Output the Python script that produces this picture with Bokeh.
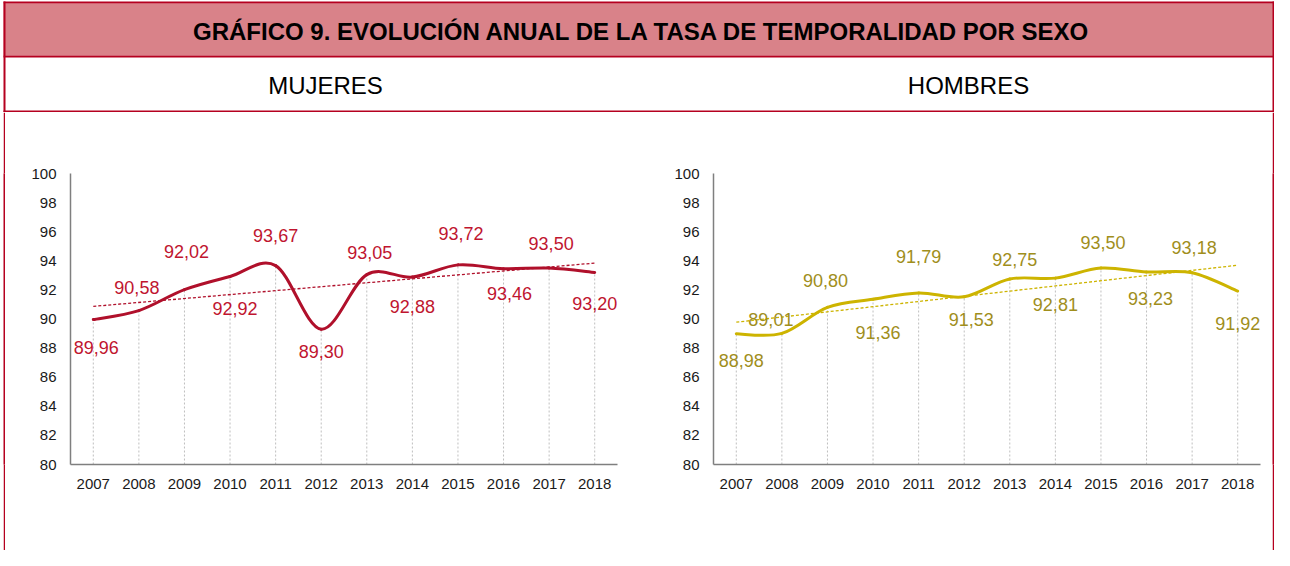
import numpy as np
from bokeh.plotting import figure
from bokeh.models import Range1d, FixedTicker, ColumnDataSource
from bokeh.layouts import column, row
from bokeh.embed import file_html
from bokeh.resources import INLINE
from bokeh.core.properties import value

# ---------------- data ----------------
TITLE = "GRÁFICO  9. EVOLUCIÓN ANUAL DE LA TASA DE TEMPORALIDAD POR SEXO"
PANEL_TITLES = ["MUJERES", "HOMBRES"]
years = [2007, 2008, 2009, 2010, 2011, 2012, 2013, 2014, 2015, 2016, 2017, 2018]
mujeres = [89.96, 90.58, 92.02, 92.92, 93.67, 89.30, 93.05, 92.88, 93.72, 93.46, 93.50, 93.20]
hombres = [88.98, 89.01, 90.80, 91.36, 91.79, 91.53, 92.75, 92.81, 93.50, 93.23, 93.18, 91.92]
y_ticks = [80, 82, 84, 86, 88, 90, 92, 94, 96, 98, 100]

# label placement (screen px, positive dy = below the point)
muj_dx = [3, -2, 2, 5, 0, 0, 3, 0, 3, 6, 2, 0]
muj_dy = [28, -23, -38, 32, -30, 22, -22, 29, -31, 25, -25, 31]
hom_dx = [5, -11, -2, 5, 0, 7, 5, 0, 2, 4, 2, 0]
hom_dy = [27, -14, -27, 33, -36, 23, -19, 26, -26, 26, -25, 32]

# ---------------- styles ----------------
RED = "#B5001F"
PINK = "#D98289"
FONT = "Liberation Sans"
W = 1274
HH = 112
CH = 438


def header():
    p = figure(width=W, height=HH, x_range=Range1d(0, W), y_range=Range1d(HH, 0),
               toolbar_location=None, output_backend="svg", min_border=0,
               x_axis_type=None, y_axis_type=None, outline_line_color=None,
               background_fill_color="white", border_fill_color="white")
    p.grid.visible = False
    p.quad(left=[3], right=[W], top=[3], bottom=[55], fill_color=PINK, line_color=None)
    # border lines: top, two separators, left, right
    p.quad(left=[3, 3, 3, 3, W - 2], right=[W, W, W, 5, W],
           top=[1, 55, 110, 1, 1], bottom=[3, 57, 112, HH, HH],
           fill_color=RED, line_color=None)
    p.text(x=[645], y=[30.5], text=[TITLE], text_font=value(FONT), text_font_style="bold",
           text_font_size="24px", text_align="center", text_baseline="middle",
           text_color="#000000")
    p.text(x=[325, 968], y=[84.5, 84.5], text=PANEL_TITLES, text_font=value(FONT),
           text_font_size="24px", text_align="center", text_baseline="middle",
           text_color="#000000")
    return p


def strip(width, color):
    f = figure(width=width, height=CH, toolbar_location=None, output_backend="svg",
               min_border=0, x_axis_type=None, y_axis_type=None,
               outline_line_color=None, background_fill_color=color,
               border_fill_color=color)
    f.grid.visible = False
    return f


def bezier_segments(xs, ys):
    n = len(xs)
    P = list(zip(xs, ys))
    x0, y0, x1, y1, cx0, cy0, cx1, cy1 = [], [], [], [], [], [], [], []
    for i in range(n - 1):
        pm = P[i - 1] if i > 0 else P[i]
        p0 = P[i]
        p1 = P[i + 1]
        p2 = P[i + 2] if i + 2 < n else P[i + 1]
        x0.append(p0[0]); y0.append(p0[1])
        x1.append(p1[0]); y1.append(p1[1])
        cx0.append(p0[0] + (p1[0] - pm[0]) / 6.0)
        cy0.append(p0[1] + (p1[1] - pm[1]) / 6.0)
        cx1.append(p1[0] - (p2[0] - p0[0]) / 6.0)
        cy1.append(p1[1] - (p2[1] - p0[1]) / 6.0)
    return dict(x0=x0, y0=y0, x1=x1, y1=y1, cx0=cx0, cy0=cy0, cx1=cx1, cy1=cy1)


def chart(vals, line_color, label_color, dx, dy, width, mbl, mbr):
    p = figure(width=width, height=CH, x_range=Range1d(years[0] - 0.5, years[-1] + 0.5),
               y_range=Range1d(y_ticks[0], y_ticks[-1]),
               toolbar_location=None, output_backend="svg",
               min_border_left=mbl, min_border_right=mbr,
               min_border_top=61, min_border_bottom=86,
               outline_line_color=None, background_fill_color="white",
               border_fill_color="white")
    p.grid.visible = False
    for ax in (p.xaxis[0], p.yaxis[0]):
        ax.axis_line_color = "#7F7F7F"
        ax.axis_line_width = 1.5
        ax.major_tick_line_color = None
        ax.minor_tick_line_color = None
        ax.major_tick_in = 0
        ax.major_tick_out = 0
        ax.minor_tick_in = 0
        ax.minor_tick_out = 0
        ax.major_label_text_font = FONT
        ax.major_label_text_font_size = "15px"
        ax.major_label_text_color = "#1A1A1A"
    p.xaxis.ticker = FixedTicker(ticks=years)
    p.xaxis.major_label_overrides = {y: str(y) for y in years}
    p.xaxis.major_label_standoff = 14
    p.yaxis.ticker = FixedTicker(ticks=y_ticks)
    p.yaxis.major_label_overrides = {t: str(t) for t in y_ticks}
    p.yaxis.major_label_standoff = 14

    # drop lines
    p.segment(x0=years, y0=[y_ticks[0]] * len(years), x1=years, y1=vals,
              line_color="#BFBFBF", line_width=1, line_dash="2 2")
    # smoothed line
    src = ColumnDataSource(bezier_segments(years, vals))
    p.bezier(x0="x0", y0="y0", x1="x1", y1="y1", cx0="cx0", cy0="cy0",
             cx1="cx1", cy1="cy1", source=src, line_color=line_color,
             line_width=3, line_cap="round")
    # linear trend
    coef = np.polyfit(years, vals, 1)
    tx = [years[0], years[-1]]
    p.line(x=tx, y=list(np.polyval(coef, tx)), line_color=line_color,
           line_width=1.3, line_dash="3 2")
    # data labels
    labels = [f"{v:.2f}".replace(".", ",") for v in vals]
    p.text(x=years, y=vals, text=labels, x_offset=dx, y_offset=dy,
           text_font=value(FONT), text_font_size="18px", text_align="center",
           text_baseline="middle", text_color=label_color)
    return p


left = chart(mujeres, "#B0102B", "#C0152F", muj_dx, muj_dy, 636, 65, 24)
right = chart(hombres, "#CDB400", "#A08E1C", hom_dx, hom_dy, 631, 72, 12)

layout = column(header(),
                row(strip(3, "white"), strip(2, RED), left, right, strip(2, RED), spacing=0),
                spacing=0)

open("out.html", "w").write(file_html(layout, INLINE))
